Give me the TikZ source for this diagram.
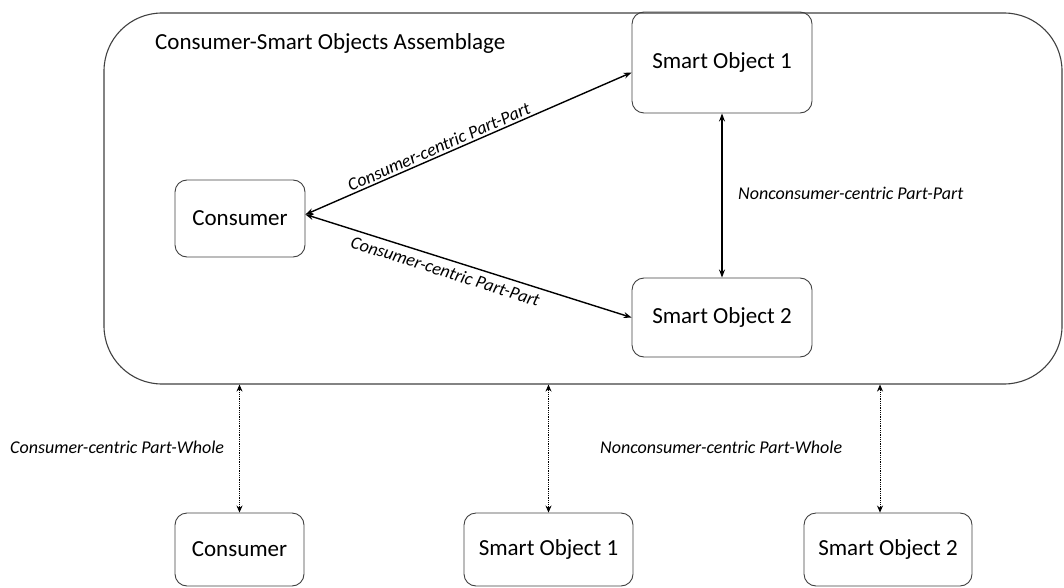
\documentclass[tikz,border=0pt]{standalone}
\usepackage{fontspec}
\setmainfont{Carlito}
\usetikzlibrary{arrows.meta}
\definecolor{edge}{HTML}{404040}
\tikzset{
  box/.style={draw=edge, line width=0.9pt, rounded corners=12pt, inner sep=0pt,
              font=\fontsize{23}{27}\selectfont},
  rel/.style={line width=1.4pt, {Stealth[length=8pt,width=6pt]}-{Stealth[length=8pt,width=6pt]}},
  pw/.style={line width=0.8pt, densely dotted, {Stealth[length=7pt,width=6pt]}-{Stealth[length=7pt,width=6pt]}},
  lbl/.style={font=\fontsize{18}{21}\selectfont\itshape, inner sep=2pt},
}
\begin{document}
\begin{tikzpicture}[x=1pt,y=-1pt]
\useasboundingbox (0,0) rectangle (1064,588);
% assemblage
\node[draw=edge, line width=1.1pt, rounded corners=58pt, minimum width=958pt, minimum height=371pt, inner sep=0pt] (asm) at (583,198.5) {};
\node[anchor=west, font=\fontsize{23}{27}\selectfont, inner sep=0pt] (title) at (155,43) {Consumer-Smart Objects Assemblage};
% inner nodes
\node[box, minimum width=130pt, minimum height=77pt] (con) at (240,218.5) {Consumer};
\node[box, minimum width=180pt, minimum height=101pt] (so1) at (722,62.5) {Smart Object 1};
\node[box, minimum width=180pt, minimum height=79pt] (so2) at (722,317.5) {Smart Object 2};
% bottom nodes
\node[box, minimum width=129pt, minimum height=73pt] (b1) at (239.5,549.5) {Consumer};
\node[box, minimum width=169pt, minimum height=73pt] (b2) at (548.5,549.5) {Smart Object 1};
\node[box, minimum width=168pt, minimum height=73pt] (b3) at (888,549.5) {Smart Object 2};
% part-part relations
\draw[rel] ([yshift=4pt]con.east) -- node[lbl, pos=0.42, sloped, above] {Consumer-centric Part-Part} ([yshift=-10pt]so1.west);
\draw[rel] ([yshift=4pt]con.east) -- node[lbl, pos=0.44, sloped, below, yshift=-3pt] {Consumer-centric Part-Part} (so2.west);
\draw[rel] (so1.south) -- (so2.north);
\node[lbl, anchor=west] (npp) at (736,193) {Nonconsumer-centric Part-Part};
% part-whole relations
\draw[pw] (b1.north) -- (b1.north |- asm.south);
\draw[pw] (b2.north) -- (b2.north |- asm.south);
\draw[pw] ([xshift=-8pt]b3.north) -- ([xshift=-8pt]b3.north |- asm.south);
\node[lbl, anchor=west] (cpw) at (8,447) {Consumer-centric Part-Whole};
\node[lbl, anchor=west] (npw) at (598,447) {Nonconsumer-centric Part-Whole};
\end{tikzpicture}
\end{document}
